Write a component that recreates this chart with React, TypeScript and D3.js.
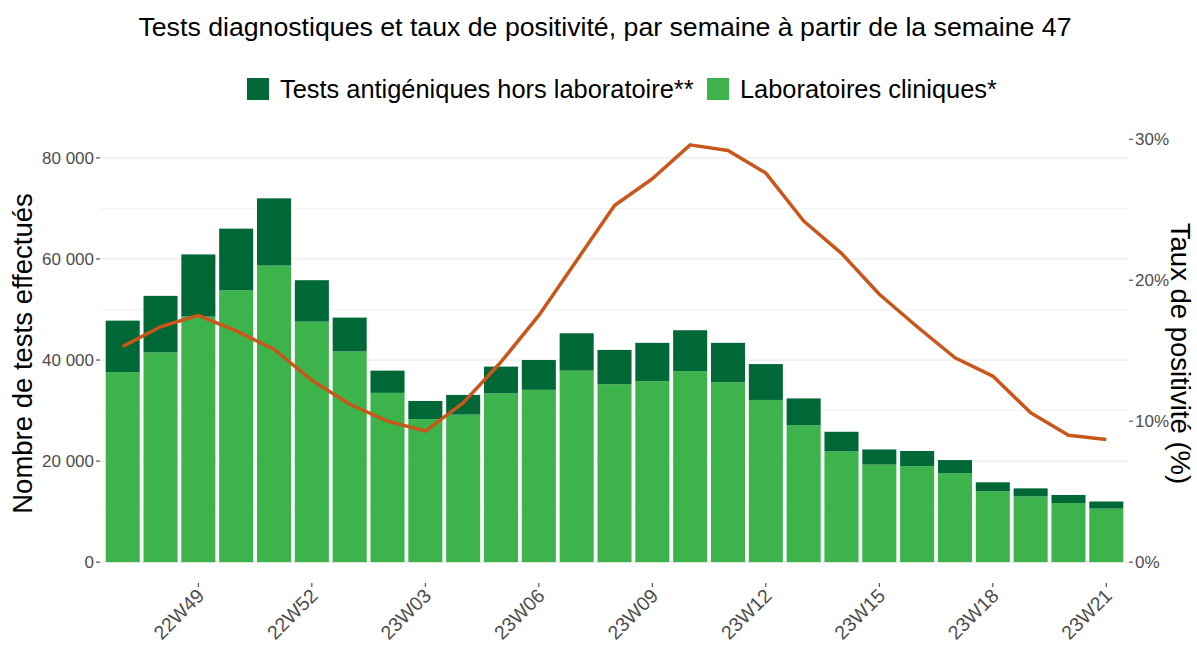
import React from "react";
import * as d3 from "d3";

const weeks = [
  "22W47", "22W48", "22W49", "22W50", "22W51", "22W52",
  "23W01", "23W02", "23W03", "23W04", "23W05", "23W06", "23W07", "23W08",
  "23W09", "23W10", "23W11", "23W12", "23W13", "23W14", "23W15", "23W16",
  "23W17", "23W18", "23W19", "23W20", "23W21",
];

// Laboratoires cliniques*
const labTests = [
  37600, 41500, 48600, 53800, 58700, 47600, 41700, 33500, 28300, 29200,
  33400, 34100, 37900, 35200, 35800, 37800, 35600, 32100, 27100, 21900,
  19300, 19000, 17600, 14000, 13000, 11700, 10600,
];

// Tests antigéniques hors laboratoire**
const antigenTests = [
  10200, 11200, 12300, 12200, 13300, 8200, 6700, 4400, 3600, 3900,
  5300, 5900, 7400, 6800, 7600, 8100, 7800, 7100, 5300, 3900,
  3000, 3000, 2600, 1800, 1600, 1600, 1400,
];

// Taux de positivité (%)
const positivity = [
  15.3, 16.7, 17.5, 16.4, 15.1, 12.9, 11.2, 10.0, 9.3, 11.3,
  14.2, 17.5, 21.4, 25.3, 27.2, 29.6, 29.2, 27.6, 24.2, 21.9,
  19.0, 16.7, 14.5, 13.2, 10.6, 9.0, 8.7,
];

const leftTicks = [0, 20000, 40000, 60000, 80000];
const rightTicks = [0, 10, 20, 30];
const xTickLabels = ["22W49", "22W52", "23W03", "23W06", "23W09", "23W12", "23W15", "23W18", "23W21"];

const DARK = "#006837";
const LIGHT = "#3cb44b";
const LINE = "#c9561a";
const FONT = "'Liberation Sans', Arial, sans-serif";
const SCALE_FACTOR = 2790; // 1% de positivité en nombre de tests

const PANEL = { left: 100, right: 1129, top: 124, bottom: 583 };

const fmt = (v: number) => d3.format(",")(v).replace(/,/g, " ");

export default function App() {
  const totals = labTests.map((d, i) => d + antigenTests[i]);
  const yMax = Math.max(d3.max(totals) || 0, (d3.max(positivity) || 0) * SCALE_FACTOR);

  const x = d3
    .scaleBand()
    .domain(weeks)
    .range([PANEL.left, PANEL.right])
    .paddingInner(0.1)
    .paddingOuter(0.15);

  const y = d3
    .scaleLinear()
    .domain([-0.05 * yMax, 1.05 * yMax])
    .range([PANEL.bottom, PANEL.top]);

  const cx = (w: string) => (x(w) || 0) + x.bandwidth() / 2;

  const line = d3
    .line<number>()
    .x((_, i) => cx(weeks[i]))
    .y((d) => y(d * SCALE_FACTOR));

  const minorTicks = d3.range(10000, 90000, 20000).filter((v) => y(v) > PANEL.top);

  return (
    <svg width={1197} height={646} style={{ position: "absolute", left: 0, top: 0, fontFamily: FONT }}>
      <rect width={1197} height={646} fill="#fff" />
      <text x={605} y={36} textAnchor="middle" fontSize={26.7} fill="#000">
        Tests diagnostiques et taux de positivité, par semaine à partir de la semaine 47
      </text>

      {/* légende */}
      <g fontSize={25.4} fill="#000">
        <rect x={247} y={78} width={22} height={22} fill={DARK} />
        <text x={280} y={98}>Tests antigéniques hors laboratoire**</text>
        <rect x={707} y={78} width={22} height={22} fill={LIGHT} />
        <text x={740} y={98}>Laboratoires cliniques*</text>
      </g>

      {/* grille */}
      {minorTicks.map((v) => (
        <line key={"m" + v} x1={PANEL.left} x2={PANEL.right} y1={y(v)} y2={y(v)} stroke="#f2f2f2" strokeWidth={1} />
      ))}
      {leftTicks.map((v) => (
        <line key={"g" + v} x1={PANEL.left} x2={PANEL.right} y1={y(v)} y2={y(v)} stroke="#ebebeb" strokeWidth={1.2} />
      ))}

      {/* barres */}
      {weeks.map((w, i) => (
        <g key={w}>
          <rect x={x(w)} y={y(labTests[i])} width={x.bandwidth()} height={y(0) - y(labTests[i])} fill={LIGHT} />
          <rect x={x(w)} y={y(totals[i])} width={x.bandwidth()} height={y(labTests[i]) - y(totals[i])} fill={DARK} />
        </g>
      ))}

      <path d={line(positivity) || ""} fill="none" stroke={LINE} strokeWidth={3.5} strokeLinejoin="round" />

      {/* axe gauche */}
      {leftTicks.map((v) => (
        <g key={"l" + v}>
          <line x1={PANEL.left - 4} x2={PANEL.left} y1={y(v)} y2={y(v)} stroke="#333" />
          <text x={PANEL.left - 6} y={y(v) + 6} textAnchor="end" fontSize={17} fill="#4d4d4d">
            {fmt(v)}
          </text>
        </g>
      ))}

      {/* axe droit */}
      {rightTicks.map((p) => (
        <g key={"r" + p}>
          <line x1={PANEL.right} x2={PANEL.right + 4} y1={y(p * SCALE_FACTOR)} y2={y(p * SCALE_FACTOR)} stroke="#333" />
          <text x={PANEL.right + 6} y={y(p * SCALE_FACTOR) + 6} fontSize={17} fill="#4d4d4d">
            {p}%
          </text>
        </g>
      ))}

      {/* axe x */}
      {xTickLabels.map((w) => (
        <g key={"x" + w} transform={`translate(${cx(w)},${PANEL.bottom})`}>
          <line y1={0} y2={4} stroke="#333" />
          <text transform="translate(7,14) rotate(-45)" textAnchor="end" fontSize={19.5} fill="#4d4d4d">
            {w}
          </text>
        </g>
      ))}

      <text transform={`translate(32,${(PANEL.top + PANEL.bottom) / 2}) rotate(-90)`} textAnchor="middle" fontSize={27.5} fill="#000">
        Nombre de tests effectués
      </text>
      <text transform={`translate(1171,${(PANEL.top + PANEL.bottom) / 2}) rotate(90)`} textAnchor="middle" fontSize={27.5} fill="#000">
        Taux de positivité (%)
      </text>
    </svg>
  );
}
